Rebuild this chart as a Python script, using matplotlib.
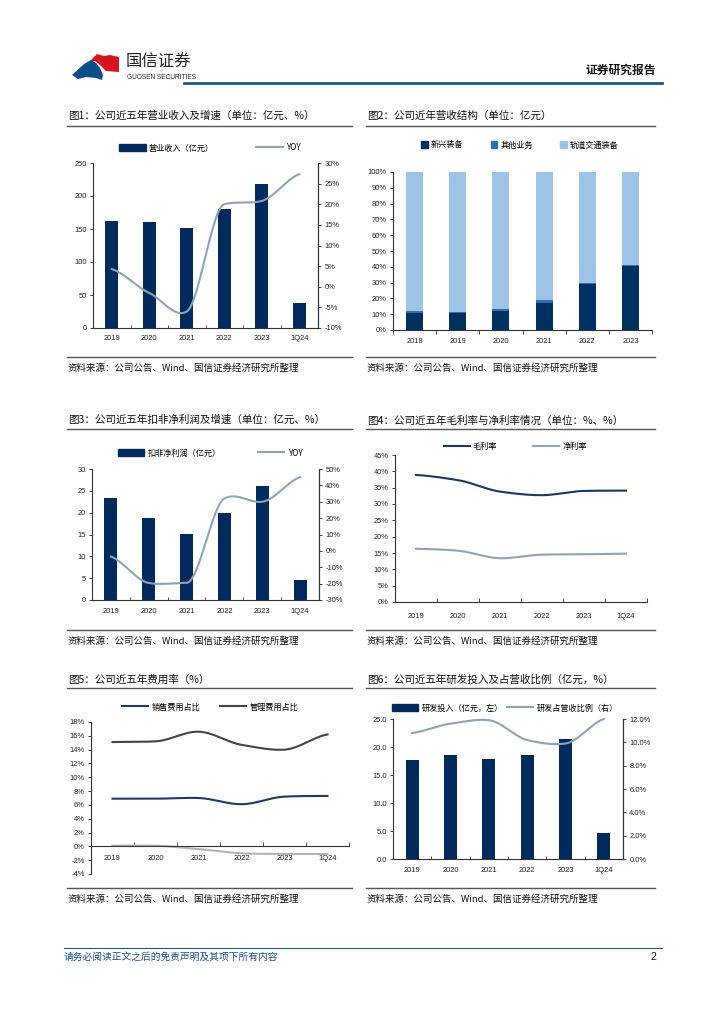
import numpy as np
import matplotlib
matplotlib.use("Agg")
import matplotlib.pyplot as plt
from matplotlib.patches import Polygon, Patch
from matplotlib.lines import Line2D

plt.rcParams['font.family'] = ['Liberation Sans', 'Noto Sans CJK SC', 'DejaVu Sans']
plt.rcParams['axes.unicode_minus'] = False
CJK = ['Noto Sans CJK SC', 'DejaVu Sans']

# ---------------- data ----------------
years5 = ['2019', '2020', '2021', '2022', '2023', '1Q24']
years6 = ['2018', '2019', '2020', '2021', '2022', '2023']

rev = [162, 160, 151, 181, 218, 38]
rev_yoy = [4.3, -1.5, -6.0, 20.0, 20.8, 27.3]

seg_new = [11.0, 11.0, 12.0, 17.0, 29.0, 40.5]
seg_other = [1.0, 0.6, 1.2, 2.0, 1.0, 0.8]
seg_rail = [100 - a - b for a, b in zip(seg_new, seg_other)]

np_val = [23.3, 18.7, 15.2, 20.0, 26.0, 4.5]
np_yoy = [-3.5, -19.6, -19.5, 32.0, 30.0, 45.0]

gross_m = [38.9, 37.3, 33.8, 32.7, 34.0, 34.1]
net_m = [16.3, 15.7, 13.4, 14.5, 14.6, 14.8]

sell_r = [6.9, 6.9, 7.0, 6.1, 7.2, 7.3]
admin_r = [15.1, 15.2, 16.6, 14.7, 14.0, 16.2]
fin_r = [0.1, 0.1, -0.4, -1.0, -1.1, -1.1]

rd = [17.6, 18.6, 17.9, 18.5, 21.5, 4.7]
rd_ratio = [10.8, 11.6, 11.9, 10.2, 9.9, 12.0]

NAVY = '#002a5c'
LBLUE_LINE = '#8fa3b8'
W, H = 724, 1024

fig = plt.figure(figsize=(W / 100, H / 100), dpi=100)
fig.patch.set_facecolor('white')


def fx(x):
    return x / W


def fy(y):
    return 1 - y / H


def ax_px(l, t, r, b):
    return fig.add_axes([l / W, 1 - b / H, (r - l) / W, (b - t) / H])


def smooth(y, n=40):
    """Smoothed cubic Hermite curve through the points (drawing style only)."""
    y = np.asarray(y, float)
    m = len(y)
    d = np.diff(y)
    t = np.zeros(m)
    for i in range(1, m - 1):
        cr = 0.5 * (y[i + 1] - y[i - 1])
        if d[i - 1] * d[i] > 0:
            lim = 3 * min(abs(d[i - 1]), abs(d[i]))
            t[i] = np.sign(cr) * min(abs(cr) * 0.8, lim)
        else:
            t[i] = 0.5 * cr
    t[0] = d[0] * 0.5
    t[-1] = d[-1] * 0.5
    xs, ys = [], []
    for i in range(m - 1):
        s = np.linspace(0, 1, n, endpoint=False)
        h00 = 2 * s ** 3 - 3 * s ** 2 + 1
        h10 = s ** 3 - 2 * s ** 2 + s
        h01 = -2 * s ** 3 + 3 * s ** 2
        h11 = s ** 3 - s ** 2
        ys.append(h00 * y[i] + h10 * t[i] + h01 * y[i + 1] + h11 * t[i + 1])
        xs.append(i + s)
    xs.append([m - 1.0])
    ys.append([y[-1]])
    return np.concatenate(xs), np.concatenate(ys)


TICK_FS = 5.4
LEG_FS = 5.9
TITLE_FS = 7.6
SPC = '#333333'


def style(ax, right=False):
    ax.spines['top'].set_visible(False)
    if not right:
        ax.spines['right'].set_visible(False)
    for s in ax.spines.values():
        s.set_color(SPC)
        s.set_linewidth(0.8)
    ax.tick_params(labelsize=TICK_FS, colors='#222222', width=0.6, length=2.5, pad=2)
    ax.set_xlim(-0.5, 5.5)
    ax.set_facecolor('none')


def panel_frame(x0, x1, ytitle, yline, ybot, title):
    fig.text(fx(x0 + 1), fy(ytitle), title, fontsize=TITLE_FS, va='center', ha='left',
             color='#111111', family=CJK)
    fig.add_artist(Line2D([fx(x0), fx(x1)], [fy(yline), fy(yline)], color='#555555', lw=1.0))
    fig.add_artist(Line2D([fx(x0), fx(x1)], [fy(ybot), fy(ybot)], color='#555555', lw=1.0))
    fig.text(fx(x0 + 1), fy(ybot + 11), '资料来源：公司公告、Wind、国信证券经济研究所整理',
             fontsize=6.8, va='center', ha='left', color='#111111', family=CJK)


def leg(ax, handles, labels, cx, cy, colsp=4.0, hl=3.2):
    lg = ax.legend(handles, labels, loc='center', bbox_to_anchor=(fx(cx), fy(cy)),
                   bbox_transform=fig.transFigure, ncol=len(handles), frameon=False,
                   handlelength=hl, handleheight=0.9, columnspacing=colsp,
                   handletextpad=0.4, borderaxespad=0, prop={'family': CJK, 'size': LEG_FS})
    return lg


def xcats(ax, labels, pad=4, minor_dir='in'):
    ax.set_xticks(x)
    ax.set_xticklabels(labels)
    ax.set_xticks(np.arange(0.5, 6, 1), minor=True)
    ax.tick_params(axis='x', which='major', length=0, pad=pad)
    ax.tick_params(axis='x', which='minor', length=2.5, width=0.6, direction=minor_dir,
                   colors=SPC)


def right_axis(axb, lim, ticks, labels):
    axb.set_xlim(-0.5, 5.5)
    axb.set_ylim(*lim)
    axb.set_yticks(ticks)
    axb.set_yticklabels(labels)
    for k in ['top', 'left', 'bottom']:
        axb.spines[k].set_visible(False)
    axb.spines['right'].set_color(SPC)
    axb.spines['right'].set_linewidth(0.8)
    axb.tick_params(labelsize=TICK_FS, colors='#222222', width=0.6, length=2.5, pad=2)


x = np.arange(6)

# ---------------- header ----------------
fig.add_artist(Polygon([[fx(89), fy(62)], [fx(97), fy(54)], [fx(104), fy(56)], [fx(110), fy(55)],
                        [fx(119), fy(57)], [fx(119), fy(72)], [fx(106), fy(71)], [fx(100), fy(65)],
                        [fx(95), fy(61)]],
                       closed=True, color='#d7141e', lw=0))
fig.add_artist(Polygon([[fx(72), fy(75)], [fx(84), fy(64)], [fx(91), fy(60)], [fx(96), fy(63)],
                        [fx(100), fy(68)], [fx(103), fy(75)], [fx(102), fy(80)], [fx(96), fy(78)],
                        [fx(86), fy(77)], [fx(78), fy(79)]],
                       closed=True, color='#0f4c8a', lw=0))
fig.text(fx(126), fy(62), '国信证券', fontsize=11.8, color='#222222', va='center', ha='left', family=CJK)
fig.text(fx(127), fy(77.5), 'GUOSEN SECURITIES', fontsize=4.7, color='#222222', va='center', ha='left')
fig.add_artist(Line2D([fx(184), fx(662)], [fy(82.5), fy(82.5)], color='#1f5592', lw=2.0))
fig.text(fx(656), fy(70), '证券研究报告', fontsize=8.5, weight='bold', color='#111111', va='center',
         ha='right', family=CJK)

# footer
fig.add_artist(Line2D([fx(64), fx(662)], [fy(948), fy(948)], color='#1f5592', lw=0.8))
fig.text(fx(64), fy(957), '请务必阅读正文之后的免责声明及其项下所有内容', fontsize=7.0, color='#1f4f8a',
         style='italic', va='center', ha='left', family=CJK)
fig.text(fx(656), fy(957), '2', fontsize=7.5, color='#111111', va='center', ha='right')

# ---------------- Chart 1 ----------------
panel_frame(67, 352, 116, 126, 357, '图1：公司近五年营业收入及增速（单位：亿元、%）')
ax1 = ax_px(93, 163, 318, 328)
style(ax1, right=True)
ax1.bar(x, rev, width=0.34, color=NAVY)
ax1.set_ylim(0, 250)
ax1.set_yticks(range(0, 251, 50))
xcats(ax1, years5, pad=5)
ax1b = ax1.twinx()
sx, sy = smooth(rev_yoy)
ax1b.plot(sx, sy, color=LBLUE_LINE, lw=1.5)
right_axis(ax1b, (-10, 30), range(-10, 31, 5), [f'{v}%' for v in range(-10, 31, 5)])
leg(ax1b, [Patch(color=NAVY), Line2D([], [], color=LBLUE_LINE, lw=1.5)],
    ['营业收入（亿元）', 'YOY'], 210, 148, colsp=5.2)

# ---------------- Chart 2 ----------------
panel_frame(366, 655, 116, 126, 357, '图2：公司近年营收结构（单位：亿元）')
ax2 = ax_px(393, 172, 652, 330)
style(ax2)
c_new, c_oth, c_rail = '#00305f', '#2f6fad', '#9dc3e6'
bw = 0.39
ax2.bar(x, seg_new, width=bw, color=c_new)
ax2.bar(x, seg_other, width=bw, bottom=seg_new, color=c_oth)
ax2.bar(x, seg_rail, width=bw, bottom=np.array(seg_new) + np.array(seg_other), color=c_rail)
ax2.set_ylim(0, 100)
ax2.set_yticks(range(0, 101, 10))
ax2.set_yticklabels([f'{v}%' for v in range(0, 101, 10)])
ax2.set_xticks(x)
ax2.set_xticklabels(years6)
ax2.set_xticks(np.arange(-0.5, 6, 1), minor=True)
ax2.tick_params(axis='x', which='major', length=0, pad=6)
ax2.tick_params(axis='x', which='minor', length=3, width=0.6, direction='out', colors=SPC)
leg(ax2, [Patch(color=c_new), Patch(color=c_oth), Patch(color=c_rail)],
    ['新兴装备', '其他业务', '轨道交通装备'], 520, 145, colsp=3.3, hl=0.8)

# ---------------- Chart 3 ----------------
panel_frame(67, 352, 420, 429, 630, '图3：公司近五年扣非净利润及增速（单位：亿元、%）')
ax3 = ax_px(92, 469, 319, 600)
style(ax3, right=True)
ax3.bar(x, np_val, width=0.34, color=NAVY)
ax3.set_ylim(0, 30)
ax3.set_yticks(range(0, 31, 5))
xcats(ax3, years5, pad=6)
ax3b = ax3.twinx()
sx, sy = smooth(np_yoy)
ax3b.plot(sx, sy, color=LBLUE_LINE, lw=1.5)
right_axis(ax3b, (-30, 50), range(-30, 51, 10), [f'{v}%' for v in range(-30, 51, 10)])
leg(ax3b, [Patch(color=NAVY), Line2D([], [], color=LBLUE_LINE, lw=1.5)],
    ['扣非净利润（亿元）', 'YOY'], 210, 453, colsp=4.6)

# ---------------- Chart 4 ----------------
panel_frame(366, 655, 421, 429, 630, '图4：公司近五年毛利率与净利率情况（单位：%、%）')
ax4 = ax_px(395, 455, 647, 602)
style(ax4)
sx, sy = smooth(gross_m)
g1, = ax4.plot(sx, sy, color='#1c3764', lw=1.5)
sx, sy = smooth(net_m)
g2, = ax4.plot(sx, sy, color=LBLUE_LINE, lw=1.5)
ax4.set_ylim(0, 45)
ax4.set_yticks(range(0, 46, 5))
ax4.set_yticklabels([f'{v}%' for v in range(0, 46, 5)])
xcats(ax4, years5, pad=8)
ax4.tick_params(axis='x', which='minor', length=3)
leg(ax4, [g1, g2], ['毛利率', '净利率'], 515, 447, colsp=4.3)

# ---------------- Chart 5 ----------------
panel_frame(67, 352, 680, 688, 888, '图5：公司近五年费用率（%）')
ax5 = ax_px(91, 722, 349, 874)
style(ax5)
sx, sy = smooth(sell_r)
h1, = ax5.plot(sx, sy, color='#1f3a68', lw=1.5)
sx, sy = smooth(admin_r)
h2, = ax5.plot(sx, sy, color='#454545', lw=1.5)
sx, sy = smooth(fin_r)
ax5.plot(sx, sy, color='#b4b4b4', lw=1.5)
ax5.set_ylim(-4, 18)
ax5.set_yticks(range(-4, 19, 2))
ax5.set_yticklabels([f'{v}%' for v in range(-4, 19, 2)])
ax5.spines['bottom'].set_position(('data', 0))
xcats(ax5, years5, pad=6)
ax5.tick_params(axis='x', which='minor', length=3)
leg(ax5, [h1, h2], ['销售费用占比', '管理费用占比'], 210, 707, colsp=2.4)

# ---------------- Chart 6 ----------------
panel_frame(366, 655, 680, 688, 888, '图6：公司近五年研发投入及占营收比例（亿元，%）')
ax6 = ax_px(393, 719, 623, 859)
style(ax6, right=True)
ax6.bar(x, rd, width=0.34, color=NAVY)
ax6.set_ylim(0, 25)
ax6.set_yticks(np.arange(0, 25.1, 5))
ax6.set_yticklabels([f'{v:.1f}' for v in np.arange(0, 25.1, 5)])
xcats(ax6, years5, pad=6)
ax6b = ax6.twinx()
sx, sy = smooth(rd_ratio)
ax6b.plot(sx, sy, color=LBLUE_LINE, lw=1.5, clip_on=False)
right_axis(ax6b, (0, 12), range(0, 13, 2), [f'{v:.1f}%' for v in range(0, 13, 2)])
leg(ax6b, [Patch(color=NAVY), Line2D([], [], color=LBLUE_LINE, lw=1.5)],
    ['研发投入（亿元，左）', '研发占营收比例（右）'], 505, 708, colsp=0.5)

fig.savefig('out.png', dpi=100)
